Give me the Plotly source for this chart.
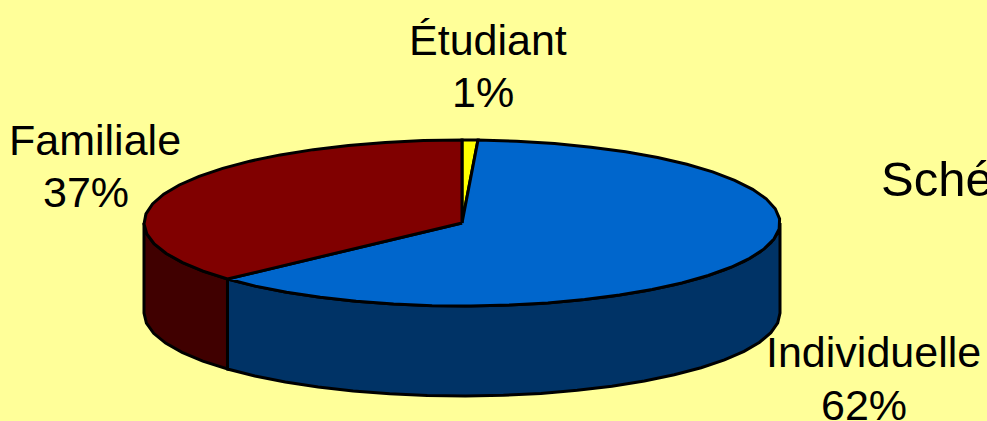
import numpy as np
import plotly.graph_objects as go

# Data (shares; they round to the printed percentages)
categories = ["Étudiant", "Individuelle", "Familiale"]
shares = [0.8, 62.4, 36.8]
top_colors = ["#FFFF00", "#0066CC", "#800000"]
side_colors = ["#808000", "#003366", "#400000"]
label_pos = [(488, 40), (873, 352), (95, 140)]
label_pos2 = [(483, 92), (864, 405), (86, 192)]

W, H = 987, 421
CX, CY, RX, RY, DEPTH = 462, 223, 318, 83, 90
FONT = "Liberation Sans"
FS = 43
STEP = 7.0


def pts(t, dy=0.0):
    t = np.radians(t)
    return CX + RX * np.sin(t), CY - RY * np.cos(t) + dy


def arc(a, b):
    n = max(2, int(round((b - a) / STEP)) + 1)
    return np.linspace(a, b, n)


fig = go.Figure()
edges = np.cumsum([0] + shares) / sum(shares) * 360


def poly(xs, ys, color, name):
    fig.add_trace(go.Scatter(
        x=xs, y=ys, mode="lines", fill="toself", fillcolor=color,
        line=dict(color="black", width=3), name=name,
        hoverinfo="skip", showlegend=False))


# Visible outer walls (front half of the ellipse)
for i, cat in enumerate(categories):
    a, b = max(edges[i], 90), min(edges[i + 1], 270)
    if a >= b:
        continue
    t = arc(a, b)
    x1, y1 = pts(t)
    x2, y2 = pts(t[::-1], DEPTH)
    poly(np.r_[x1, x2, x1[0]], np.r_[y1, y2, y1[0]], side_colors[i], cat)

# Top faces
for i, cat in enumerate(categories):
    x, y = pts(arc(edges[i], edges[i + 1]))
    poly(np.r_[CX, x, CX], np.r_[CY, y, CY], top_colors[i], cat)

font = dict(family=FONT, size=FS, color="black")
for i, cat in enumerate(categories):
    fig.add_annotation(x=label_pos[i][0], y=label_pos[i][1], text=cat, showarrow=False,
                       xanchor="center", yanchor="middle", font=font)
    fig.add_annotation(x=label_pos2[i][0], y=label_pos2[i][1], text=f"{round(shares[i])}%", showarrow=False,
                       xanchor="center", yanchor="middle", font=font)
fig.add_annotation(x=879, y=179, text="Sché", showarrow=False, xanchor="left", yanchor="middle",
                   font=dict(family=FONT, size=49, color="black"))

fig.update_layout(
    width=W, height=H, margin=dict(l=0, r=0, t=0, b=0),
    paper_bgcolor="#FFFF99", plot_bgcolor="#FFFF99", showlegend=False,
    xaxis=dict(range=[0, W], visible=False, fixedrange=True),
    yaxis=dict(range=[H, 0], visible=False, fixedrange=True),
)
fig.write_html(
    "out.html", config={"displayModeBar": False},
    post_script="document.body.style.margin='0';document.body.style.overflow='hidden';"
                "document.body.style.background='#FFFF99';",
)
